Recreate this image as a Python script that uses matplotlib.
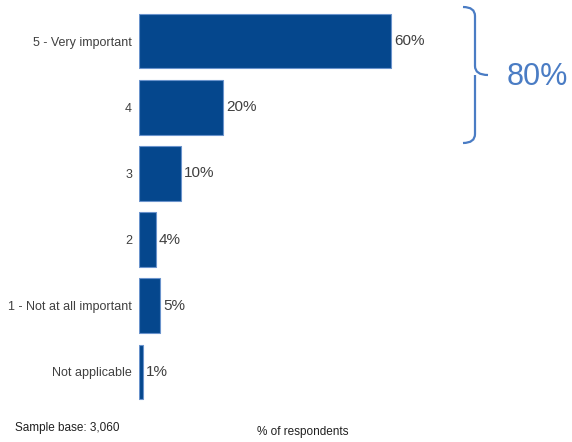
import matplotlib
matplotlib.use("Agg")
import matplotlib.pyplot as plt
from matplotlib.path import Path
from matplotlib.patches import PathPatch

categories = ["5 - Very important", "4", "3", "2", "1 - Not at all important", "Not applicable"]
values = [60, 20, 10, 4, 5, 1]
top_box_label = "80%"
sample_note = "Sample base: 3,060"
x_title = "% of respondents"

plt.rcParams["font.family"] = ["Liberation Sans", "DejaVu Sans"]

W, H = 572, 442
fig = plt.figure(figsize=(W / 100, H / 100), dpi=100)

# axes placed in pixel terms: bars start at x=139, 4.2 px per percent
ax_left, ax_width = 139, 320
ax_top, ax_bottom = 1.3, 411.7
ax = fig.add_axes([ax_left / W, 1 - ax_bottom / H, ax_width / W, (ax_bottom - ax_top) / H])
ax.set_xlim(0, ax_width / 4.2)
ax.set_ylim(5.6, -0.6)

bar_color = "#05478D"
edge_color = "#6A93CC"
ypos = list(range(len(categories)))
ax.barh(ypos, values, height=0.83, color=bar_color, edgecolor=edge_color, linewidth=0.8)

for y, v in zip(ypos, values):
    ax.text(v + 0.7, y, f"{v}%", va="center", ha="left",
            fontsize=11, color="#404040")

ax.set_yticks(ypos)
ax.set_yticklabels(categories, fontsize=9, color="#404040")
ax.tick_params(axis="y", length=0, pad=5)
ax.set_xticks([])
for s in ax.spines.values():
    s.set_visible(False)

# curly bracket grouping the top two answers
def fx(px):
    return px / W

def fy(py):
    return 1 - py / H

brace_color = "#4A7CC4"
xa, xb, xc = 463, 475, 488
yt, ym, yb = 7, 75, 143
r = 9
verts = [
    (xa, yt), (xb, yt), (xb, yt + r),
    (xb, ym - r), (xb, ym), (xc, ym),
    (xb, ym), (xb, ym + r),
    (xb, yb - r), (xb, yb), (xa, yb),
]
codes = [
    Path.MOVETO, Path.CURVE3, Path.CURVE3,
    Path.LINETO, Path.CURVE3, Path.CURVE3,
    Path.MOVETO, Path.LINETO,
    Path.LINETO, Path.CURVE3, Path.CURVE3,
]
path = Path([(fx(x), fy(y)) for x, y in verts], codes)
fig.add_artist(PathPatch(path, facecolor="none", edgecolor=brace_color,
                         linewidth=1.6, transform=fig.transFigure))

fig.text(fx(507), fy(77), top_box_label, ha="left", va="center",
         fontsize=22, color=brace_color)

fig.text(fx(15), fy(428), sample_note, ha="left", va="center",
         fontsize=8.5, color="#202020")
fig.text(fx(303), fy(432), x_title, ha="center", va="center",
         fontsize=8.5, color="#202020")

fig.savefig("out.png", dpi=100, facecolor="white")
